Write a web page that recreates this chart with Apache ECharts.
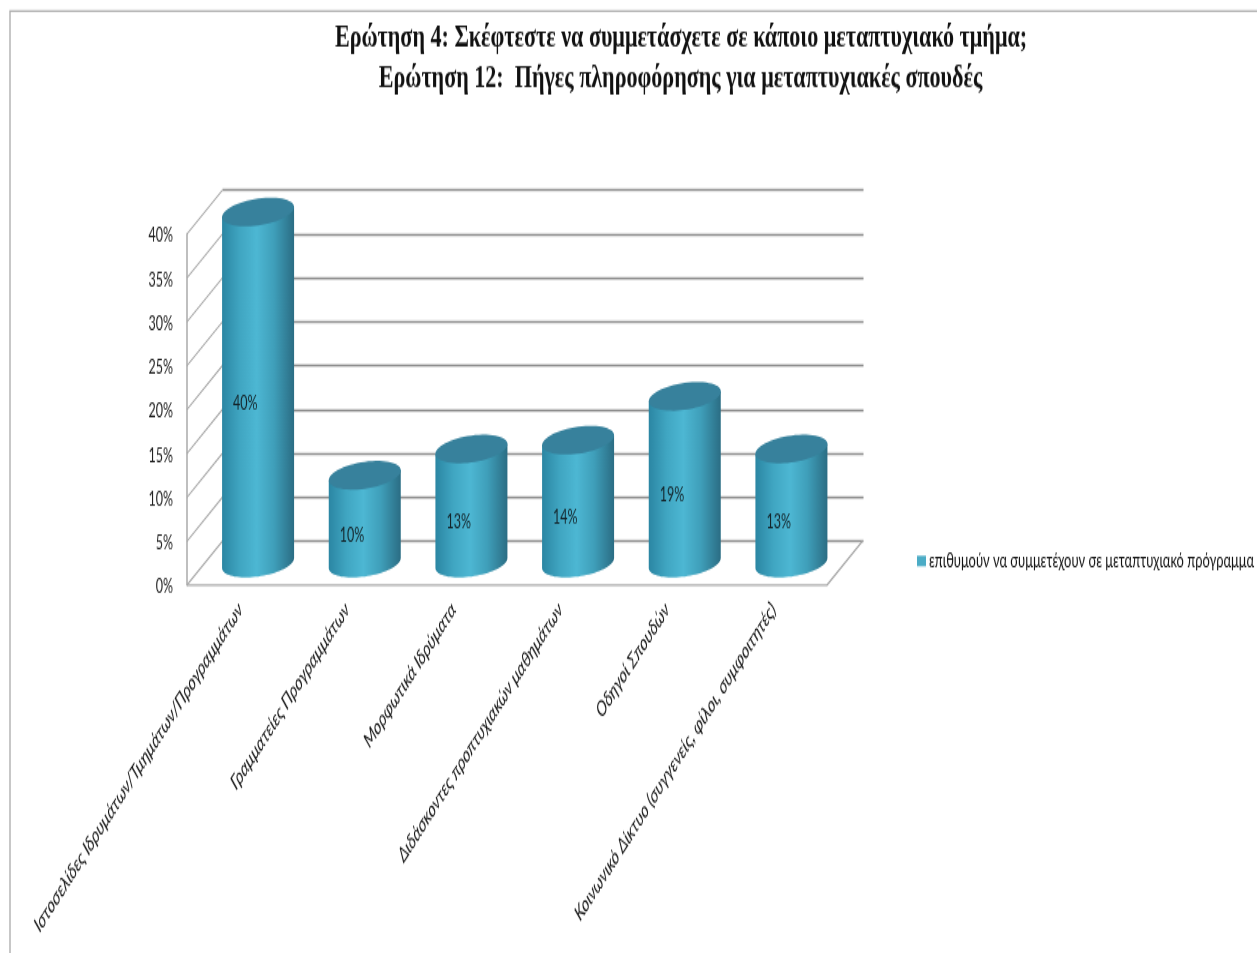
<!DOCTYPE html>
<html><head><meta charset="utf-8">
<style>html,body{margin:0;padding:0;background:#fff;width:1257px;height:953px;overflow:hidden}#c{width:1257px;height:635px;transform-origin:0 0;transform:scaleY(1.5008)}</style>
<script src="https://cdn.jsdelivr.net/npm/echarts@6/dist/echarts.min.js"></script>
</head><body><div id="c"></div>
<script>
const categories = ['Ιστοσελίδες Ιδρυμάτων/Τμημάτων/Προγραμμάτων','Γραμματείες Προγραμμάτων','Μορφωτικά Ιδρύματα','Διδάσκοντες προπτυχιακών μαθημάτων','Οδηγοί Σπουδών','Κοινωνικό Δίκτυο (συγγενείς, φίλοι, συμφοιτητές)'];
const values = [40,10,13,14,19,13];
const yTicks = [0,5,10,15,20,25,30,35,40];
const seriesName = 'επιθυμούν να συμμετέχουν σε μεταπτυχιακό πρόγραμμα';
const titleLines = ['Ερώτηση 4: Σκέφτεστε να συμμετάσχετε σε κάποιο μεταπτυχιακό τμήμα;','Ερώτηση 12:  Πήγες πληροφόρησης για μεταπτυχιακές σπουδές'];

const S = 953/635;               // the reference is stretched vertically
const Y = y => y/S;
const DX = 35.5, DY = Y(-44);    // depth of the 3D box
const RX = 36, SH = Y(5), RY = Y(13.5); // cylinder cap shape
const SANS = 'Lato,"Open Sans","Noto Sans",sans-serif';
const WALL = '#aaaaaa', GRID = '#8e8e8e';

function cap(cx, cy, from, to, n){
  const pts = [];
  for(let i=0;i<=n;i++){
    const t = from + (to-from)*i/n;
    pts.push([cx + RX*Math.cos(t), cy - SH*Math.cos(t) - RY*Math.sin(t)]);
  }
  return pts;
}
function renderCyl(params, api){
  const i = api.value(0), v = api.value(1);
  const base = api.coord([i,0]), top = api.coord([i,v]), mid = api.coord([i,v/2]);
  const cx = base[0]+DX/2, by = base[1]+DY/2, ty = top[1]+DY/2;
  const pts = [[cx-RX,ty+SH]].concat(cap(cx,by,Math.PI,2*Math.PI,40)).concat([[cx+RX,ty-SH]]);
  return {type:'group',children:[
    {type:'polygon',shape:{points:pts},style:{fill:new echarts.graphic.LinearGradient(0,0,1,0,[
      {offset:0,color:'#2b86a3'},{offset:.25,color:'#40a6c2'},{offset:.48,color:'#4db7d3'},{offset:.72,color:'#3f9fba'},{offset:1,color:'#2b6d84'}])}},
    {type:'polygon',shape:{points:cap(cx,ty,0,2*Math.PI,60)},style:{fill:'#37819c'}},
    {type:'text',x:mid[0]+5,y:mid[1]+Y(-6),style:{text:v+'%',fill:'#14242a',font:'12.5px '+SANS,align:'center',verticalAlign:'middle'}}
  ]};
}
function renderWall(params, api){
  const v = api.value(1), p = api.coord([0,v]);
  const x0 = p[0]-api.size([1,0])[0]/2;
  return {type:'line',shape:{x1:x0,y1:p[1],x2:x0+DX,y2:p[1]+DY},style:{stroke:WALL,lineWidth:1.1}};
}
function renderFloor(params, api){
  const n = categories.length;
  const w = api.size([1,0])[0];
  const p = api.coord([0,0]);
  const x0 = p[0]-w/2, x1 = x0+w*n;
  return {type:'polyline',shape:{points:[[x0,p[1]],[x1,p[1]],[x1+DX,p[1]+DY]]},style:{stroke:WALL,lineWidth:1.3,fill:null}};
}
const chart = echarts.init(document.getElementById('c'));
const titleFont = 'bold 20px "Liberation Serif",serif';
chart.setOption({
  animation:false,
  backgroundColor:'#fff',
  legend:{left:917,top:Y(561)-6.5,itemWidth:9,itemHeight:7,itemGap:4,padding:0,data:[{name:seriesName,icon:'rect'}],
    textStyle:{fontFamily:SANS,fontSize:12.9,color:'#111',padding:[0,0,0,-2]}},
  grid:[
    {left:187,top:Y(234),width:640,height:Y(351)},
    {left:222.5,top:Y(190),width:641,height:Y(351)}
  ],
  xAxis:[
    {type:'category',gridIndex:0,data:categories,axisTick:{show:false},axisLine:{show:false},
     axisLabel:{interval:0,rotate:46.5,margin:14,fontFamily:SANS,fontStyle:'italic',fontSize:14,color:'#111'}},
    {type:'category',gridIndex:1,data:categories,show:false}
  ],
  yAxis:[
    {type:'value',gridIndex:0,min:0,max:40,interval:5,splitLine:{show:false},axisTick:{show:false},
     axisLine:{show:true,lineStyle:{color:WALL,width:1.5}},
     axisLabel:{margin:14,formatter:'{t|{value}%}',color:'#222',
       rich:{t:{fontFamily:SANS,fontSize:12.5,color:'#222',padding:[3,0,0,0]}}}},
    {type:'value',gridIndex:1,min:0,max:40,interval:5,axisLabel:{show:false},axisTick:{show:false},
     axisLine:{show:false},splitLine:{show:true,lineStyle:{color:GRID,width:1.4}}}
  ],
  graphic:[
    {type:'polyline',shape:{points:[[10,Y(953)],[10,Y(11)],[1257,Y(11)]]},style:{stroke:'#b0b0b0',lineWidth:1.4,fill:null},silent:true},
    {type:'text',x:681,y:Y(39),scaleX:1.105,silent:true,style:{text:titleLines[0],font:titleFont,fill:'#111',align:'center',verticalAlign:'middle'}},
    {type:'text',x:680.5,y:Y(80),scaleX:1.105,silent:true,style:{text:titleLines[1],font:titleFont,fill:'#111',align:'center',verticalAlign:'middle'}}
  ],
  series:[
    {type:'custom',name:'walls',xAxisIndex:0,yAxisIndex:0,z:1,silent:true,renderItem:renderWall,data:yTicks.map(t=>[0,t]),encode:{x:0,y:1}},
    {type:'custom',name:'floor',xAxisIndex:0,yAxisIndex:0,z:1,silent:true,renderItem:renderFloor,data:[[0,0]],encode:{x:0,y:1}},
    {type:'custom',name:seriesName,xAxisIndex:0,yAxisIndex:0,z:3,renderItem:renderCyl,itemStyle:{color:'#4bacc6'},
     data:values.map((v,i)=>[i,v]),encode:{x:0,y:1}}
  ]
});
</script></body></html>
